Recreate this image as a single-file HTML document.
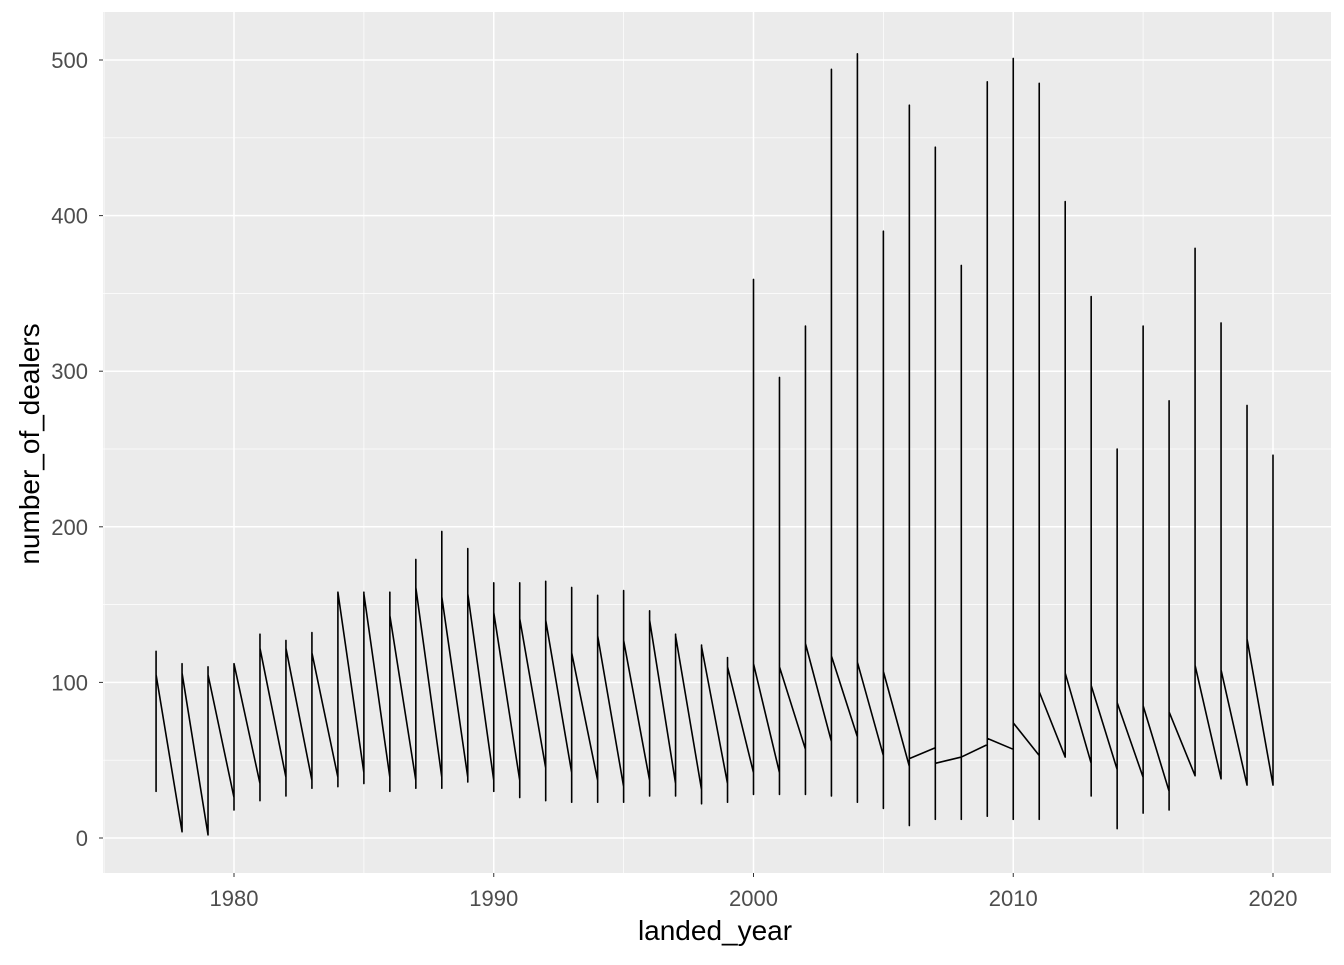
<!DOCTYPE html>
<html><head><meta charset="utf-8"><style>
body{margin:0;background:#fff;font-family:"Liberation Sans",sans-serif}
</style></head><body>
<svg id="c" width="1344" height="960" xmlns="http://www.w3.org/2000/svg"></svg>
<script>
const years=[1977,1978,1979,1980,1981,1982,1983,1984,1985,1986,1987,1988,1989,1990,1991,1992,1993,1994,1995,1996,1997,1998,1999,2000,2001,2002,2003,2004,2005,2006,2007,2008,2009,2010,2011,2012,2013,2014,2015,2016,2017,2018,2019,2020];
const startVals=[105,4,2,26,35,39,37,39,42,39,37,39,39,37,37,45,42,37,33,37,35,31,35,42,42,57,62,65,53,46,58,52,60,57,53,52,48,44,39,30,40,38,34,34];
const maxVals=[120,112,110,112,131,127,132,158,158,158,179,197,186,164,164,165,161,156,159,146,131,124,116,359,296,329,494,504,390,471,444,368,486,501,485,409,348,250,329,281,379,331,278,246];
const minVals=[30,4,2,18,24,27,32,33,35,30,32,32,36,30,26,24,23,23,23,27,27,22,23,28,28,28,27,23,19,8,12,12,14,12,12,52,27,6,16,18,40,38,34,34];
const endVals=[105,106,105,112,122,122,119,158,157,143,161,155,157,145,141,140,119,130,127,140,130,123,110,112,110,125,117,113,107,51,48,52,64,74,94,106,98,87,85,81,111,108,128,34];
const xTicks=[1980,1990,2000,2010,2020];
const xMinor=[1975,1985,1995,2005,2015];
const yTicks=[0,100,200,300,400,500];
const yMinor=[50,150,250,350,450];
const NS="http://www.w3.org/2000/svg";
const svg=document.getElementById('c');
const L=103,R=1331,T=12,B=873;
const X=v=>234+(v-1980)*25.975;
const Y=v=>838-v*1.556;
function mk(t,a,p){const e=document.createElementNS(NS,t);for(const k in a)e.setAttribute(k,a[k]);(p||svg).appendChild(e);return e;}
const panel=mk('rect',{x:L,y:T,width:R-L,height:B-T,fill:'#ebebeb'});


yMinor.forEach(v=>{const l=mk('line',{x1:L,x2:R,y1:Y(v),y2:Y(v),stroke:'#fff','stroke-width':0.7});});
xMinor.forEach(v=>{if(X(v)<L)return;const l=mk('line',{x1:X(v),x2:X(v),y1:T,y2:B,stroke:'#fff','stroke-width':0.7});});
yTicks.forEach(v=>{
const l=mk('line',{x1:L,x2:R,y1:Y(v),y2:Y(v),stroke:'#fff','stroke-width':1.5});
const tk=mk('line',{x1:L-4,x2:L,y1:Y(v),y2:Y(v),stroke:'#333','stroke-width':1});
const t=mk('text',{x:88,y:Y(v)+8,'text-anchor':'end','font-size':22,fill:'#4d4d4d'});t.textContent=v;});
xTicks.forEach(v=>{
const l=mk('line',{x1:X(v),x2:X(v),y1:T,y2:B,stroke:'#fff','stroke-width':1.5});
const tk=mk('line',{x1:X(v),x2:X(v),y1:B,y2:B+4,stroke:'#333','stroke-width':1});
const t=mk('text',{x:X(v),y:906,'text-anchor':'middle','font-size':22,fill:'#4d4d4d'});t.textContent=v;});
let d='';
years.forEach((yr,i)=>{const x=X(yr);
d+=(i?'L':'M')+x+' '+Y(startVals[i])+'L'+x+' '+Y(maxVals[i])+'L'+x+' '+Y(minVals[i])+'L'+x+' '+Y(endVals[i]);});
const p=mk('path',{d:d,fill:'none',stroke:'#000','stroke-width':1.6,'stroke-linejoin':'round'});


const xt=mk('text',{x:715,y:940,'text-anchor':'middle','font-size':28,fill:'#000'});xt.textContent='landed_year';


const yt=mk('text',{x:0,y:0,transform:'translate(39,444) rotate(-90)','text-anchor':'middle','font-size':28,fill:'#000'});yt.textContent='number_of_dealers';


</script>
</body></html>
